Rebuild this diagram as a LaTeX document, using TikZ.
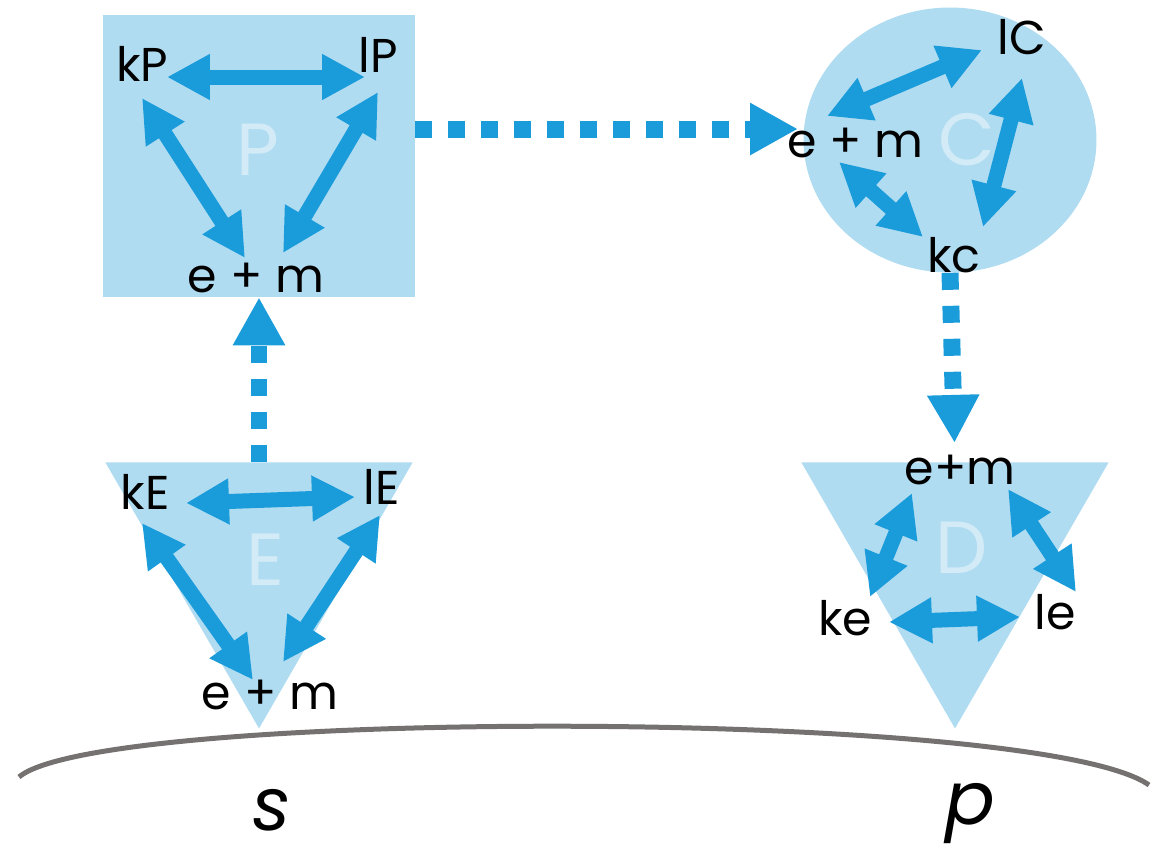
\documentclass[tikz,border=0pt]{standalone}
\usepackage{fontspec}
\setmainfont{Poppins}
\usetikzlibrary{arrows.meta,positioning,shapes.geometric}
\definecolor{skyfill}{HTML}{B0DCF1}
\definecolor{arrowblue}{HTML}{1A9BDA}
\definecolor{groundgray}{HTML}{767171}
\tikzset{
  region/.style={fill=skyfill, draw=none, inner sep=0pt},
  tribox/.style={region, regular polygon, regular polygon sides=3,
    shape border rotate=180, minimum size=7.1cm},
  statelabel/.style={font=\fontsize{27}{30}\selectfont, inner sep=0pt, text=black},
  bigletter/.style={font=\fontsize{42}{46}\selectfont, text=white,
    text opacity=0.45, inner sep=0pt},
  twoway/.style={{Triangle[length=0.86cm,width=0.86cm]}-{Triangle[length=0.86cm,width=0.86cm]},
    line width=0.3cm, color=arrowblue},
  flowarrow/.style={-{Triangle[length=0.96cm,width=0.98cm]}, line width=0.34cm,
    color=arrowblue, dash pattern=on 0.34cm off 0.32cm},
  ground/.style={line width=0.1cm, color=groundgray},
  stagename/.style={font=\fontsize{42}{46}\selectfont\itshape, inner sep=0pt},
}

\begin{document}
\begin{tikzpicture}[x=0.02cm, y=-0.02cm]
\useasboundingbox (0,0) rectangle (1171,846);

% containers
\node[region, rectangle, minimum width=6.24cm, minimum height=5.64cm] (P) at (259,156) {};
\node[region, ellipse, minimum width=5.86cm, minimum height=5.3cm] (C) at (950,140) {};
\node[tribox] (E) at (259,551) {};
\node[tribox] (D) at (955,551) {};

% pale letters
\node[bigletter] (Pname) at (258,150) {P};
\node[bigletter] (Cname) at (967,140) {C};
\node[bigletter] (Ename) at (265,560) {E};
\node[bigletter] (Dname) at (962,548) {D};

% flow between the stages
\coordinate (Cin) at (798,129);
\draw[flowarrow] (P.east |- Cin) -- (Cin);
\draw[flowarrow] (E.north) -- (P.south);
\draw[flowarrow, shorten >=0.38cm] (C.south) -- (D.north);

% arrow ends
\coordinate (p1) at (167,77);  \coordinate (p2) at (365,77);
\coordinate (p3) at (142,98);  \coordinate (p4) at (245,258);
\coordinate (p5) at (378,92);  \coordinate (p6) at (283,253);
\coordinate (c1) at (827,116); \coordinate (c2) at (982,50);
\coordinate (c3) at (1022,78); \coordinate (c4) at (983,227);
\coordinate (c5) at (839,162); \coordinate (c6) at (923,237);
\coordinate (e1) at (186,503); \coordinate (e2) at (355,497);
\coordinate (e3) at (142,523); \coordinate (e4) at (253,680);
\coordinate (e5) at (380,515); \coordinate (e6) at (283,662);
\coordinate (d1) at (912,493); \coordinate (d2) at (870,597);
\coordinate (d3) at (1008,489); \coordinate (d4) at (1076,592);
\coordinate (d5) at (889,622); \coordinate (d6) at (1020,617);

% exchanges inside each stage
\draw[twoway] (p1) -- (p2);
\draw[twoway] (p3) -- (p4);
\draw[twoway] (p5) -- (p6);
\draw[twoway] (c1) -- (c2);
\draw[twoway] (c3) -- (c4);
\draw[twoway] (c5) -- (c6);
\draw[twoway] (e1) -- (e2);
\draw[twoway] (e3) -- (e4);
\draw[twoway] (e5) -- (e6);
\draw[twoway] (d1) -- (d2);
\draw[twoway] (d3) -- (d4);
\draw[twoway] (d5) -- (d6);

% labels
\node[statelabel] (kP) at (142,64) {kP};
\node[statelabel] (lP) at (378,55) {lP};
\node[statelabel] (emP) at (256,278) {e + m};
\node[statelabel] (lC) at (1022,37) {lC};
\node[statelabel] (emC) at (855,143) {e + m};
\node[statelabel] (kc) at (954,255) {kc};
\node[statelabel] (kE) at (145,492) {kE};
\node[statelabel] (lE) at (382,487) {lE};
\node[statelabel] (emE) at (270,695) {e + m};
\node[statelabel] (emD) at (960,470) {e+m};
\node[statelabel] (ke) at (845,618) {ke};
\node[statelabel] (le) at (1055,612) {le};

% ground line
\coordinate (gl) at (19,777);
\coordinate (gr) at (1149,785);
\draw[ground] (gl) .. controls (100,708) and (1040,708) .. (gr);
\node[stagename] (s) at (272,810) {s};
\node[stagename] (pp) at (970,814) {p};

\end{tikzpicture}
\end{document}
